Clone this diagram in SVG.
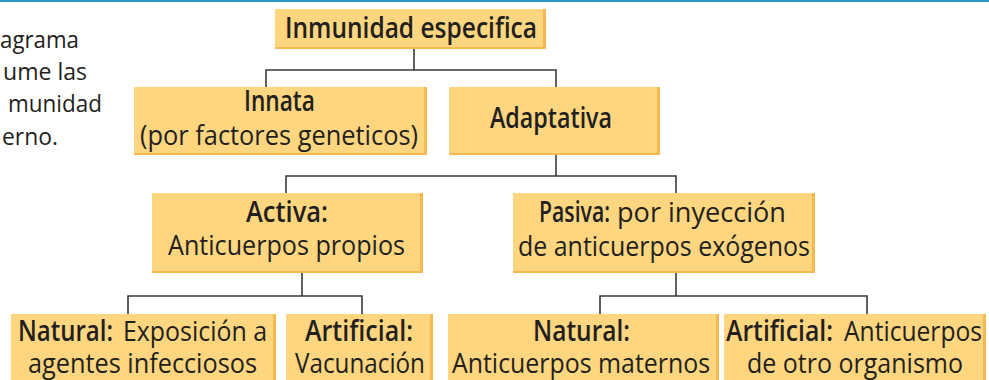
<svg xmlns="http://www.w3.org/2000/svg" width="989" height="380" viewBox="0 0 989 380">
<style>
.bx-s{fill:#f6b94f}
.bx{fill:#fdd67f}
.t{font-family:"Open Sans",Lato,"Liberation Sans",sans-serif;font-size:28px;fill:#231f20}
.b{font-weight:600}
.p{font-family:"Open Sans",Lato,"Liberation Sans",sans-serif;font-size:23px;fill:#231f20}
.c{fill:none;stroke:#3a3a3a;stroke-width:1.6}
</style>
<rect x="0" y="0" width="989" height="2" fill="#2a98c6"/>
<g id="intro">
<text class="p" x="0" y="48" textLength="79" lengthAdjust="spacingAndGlyphs">agrama</text>
<text class="p" x="3" y="80" textLength="84" lengthAdjust="spacingAndGlyphs">ume las</text>
<text class="p" x="8" y="112" textLength="94" lengthAdjust="spacingAndGlyphs">munidad</text>
<text class="p" x="2" y="145" textLength="56" lengthAdjust="spacingAndGlyphs">erno.</text>
</g>
<g id="connectors">
<path class="c" d="M414 49V70M266 87V70H556V87"/>
<path class="c" d="M556 155V176M286 193V176H676V193"/>
<path class="c" d="M302 273V296M128 314V296H362V314"/>
<path class="c" d="M676 273V296M600 314V296H867V314"/>
</g>
<g id="n-especifica">
<rect class="bx-s" x="275" y="9" width="271" height="40"/>
<rect class="bx" x="275" y="9" width="268" height="38"/>
<text class="t b" x="285" y="38" textLength="252" lengthAdjust="spacingAndGlyphs">Inmunidad especifica</text>
</g>
<g id="n-innata">
<rect class="bx-s" x="134" y="87" width="293" height="68"/>
<rect class="bx" x="134" y="87" width="290" height="66"/>
<text class="t b" x="244" y="111" textLength="71" lengthAdjust="spacingAndGlyphs">Innata</text>
<text class="t" x="140" y="145" textLength="278" lengthAdjust="spacingAndGlyphs">(por factores geneticos)</text>
</g>
<g id="n-adaptativa">
<rect class="bx-s" x="449" y="87" width="211" height="68"/>
<rect class="bx" x="449" y="87" width="208" height="66"/>
<text class="t b" x="490" y="128" textLength="122" lengthAdjust="spacingAndGlyphs">Adaptativa</text>
</g>
<g id="n-activa">
<rect class="bx-s" x="152" y="193" width="271" height="80"/>
<rect class="bx" x="152" y="193" width="268" height="78"/>
<text class="t b" x="246" y="222" textLength="82" lengthAdjust="spacingAndGlyphs">Activa:</text>
<text class="t" x="168" y="255" textLength="237" lengthAdjust="spacingAndGlyphs">Anticuerpos propios</text>
</g>
<g id="n-pasiva">
<rect class="bx-s" x="513" y="193" width="302" height="80"/>
<rect class="bx" x="513" y="193" width="299" height="78"/>
<text class="t b" x="539" y="222" textLength="71" lengthAdjust="spacingAndGlyphs">Pasiva:</text>
<text class="t" x="617" y="222" textLength="169" lengthAdjust="spacingAndGlyphs">por inyección</text>
<text class="t" x="518" y="256" textLength="292" lengthAdjust="spacingAndGlyphs">de anticuerpos exógenos</text>
</g>
<g id="n-natural-activa">
<rect class="bx-s" x="11" y="314" width="265" height="80"/>
<rect class="bx" x="11" y="314" width="262" height="80"/>
<text class="t b" x="18" y="341" textLength="95" lengthAdjust="spacingAndGlyphs">Natural:</text>
<text class="t" x="123" y="341" textLength="144" lengthAdjust="spacingAndGlyphs">Exposición a</text>
<text class="t" x="28" y="373" textLength="229" lengthAdjust="spacingAndGlyphs">agentes infecciosos</text>
</g>
<g id="n-artificial-activa">
<rect class="bx-s" x="286" y="314" width="147" height="80"/>
<rect class="bx" x="286" y="314" width="144" height="80"/>
<text class="t b" x="305" y="341" textLength="108" lengthAdjust="spacingAndGlyphs">Artificial:</text>
<text class="t" x="295" y="373" textLength="130" lengthAdjust="spacingAndGlyphs">Vacunación</text>
</g>
<g id="n-natural-pasiva">
<rect class="bx-s" x="448" y="314" width="271" height="80"/>
<rect class="bx" x="448" y="314" width="268" height="80"/>
<text class="t b" x="533" y="341" textLength="97" lengthAdjust="spacingAndGlyphs">Natural:</text>
<text class="t" x="452" y="373" textLength="258" lengthAdjust="spacingAndGlyphs">Anticuerpos maternos</text>
</g>
<g id="n-artificial-pasiva">
<rect class="bx-s" x="724" y="314" width="262" height="80"/>
<rect class="bx" x="724" y="314" width="259" height="80"/>
<text class="t b" x="726" y="341" textLength="107" lengthAdjust="spacingAndGlyphs">Artificial:</text>
<text class="t" x="844" y="341" textLength="138" lengthAdjust="spacingAndGlyphs">Anticuerpos</text>
<text class="t" x="747" y="373" textLength="216" lengthAdjust="spacingAndGlyphs">de otro organismo</text>
</g>
</svg>
